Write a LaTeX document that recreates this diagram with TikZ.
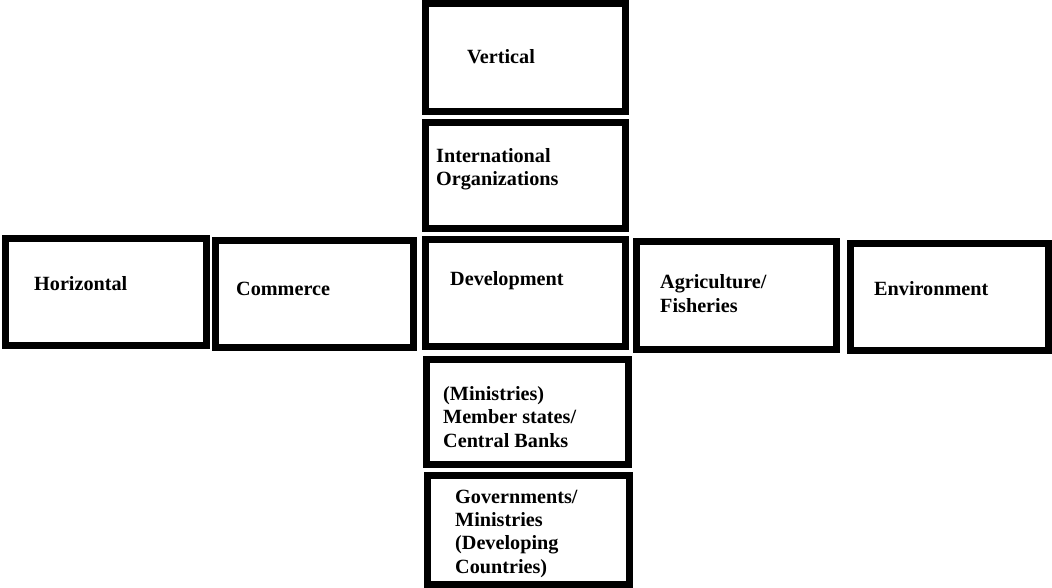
\documentclass[tikz,border=0pt]{standalone}
\usepackage{fontspec}
\setmainfont{Liberation Serif}
\begin{document}
\begin{tikzpicture}[x=1pt,y=-1pt,
  box/.style={draw=black, line width=7pt, rectangle, inner sep=0pt, fill=white},
  lbl/.style={anchor=base west, inner sep=0pt, align=left,
    font=\fontsize{20.2}{23.3}\selectfont\bfseries}]
\useasboundingbox[fill=white] (0,0) rectangle (1052,588);

% vertical column of boxes
\node[box, minimum width=200pt, minimum height=108pt] (vert) at (525.5,57.5) {};
\node[box, minimum width=200pt, minimum height=106pt] (intl) at (525.5,175.5) {};
\node[box, minimum width=200pt, minimum height=107pt] (dev)  at (525.5,293) {};
\node[box, minimum width=202pt, minimum height=105pt] (mem)  at (527.5,412) {};
\node[box, minimum width=202pt, minimum height=109pt] (gov)  at (528.5,530) {};

% horizontal row of boxes
\node[box, minimum width=201pt, minimum height=107pt] (hor)  at (106,292) {};
\node[box, minimum width=198pt, minimum height=107pt] (com)  at (314.5,294) {};
\node[box, minimum width=200pt, minimum height=108pt] (agr)  at (736.5,295.5) {};
\node[box, minimum width=198pt, minimum height=107pt] (env)  at (949.5,297) {};

% labels (base = baseline of the last line)
\node[lbl] (tvert) at (467,64)  {Vertical};
\node[lbl] (tintl) at (436,186) {International\\Organizations};
\node[lbl] (tdev)  at (450,285) {Development};
\node[lbl] (tmem)  at (443,447) {(Ministries)\\Member states/\\Central Banks};
\node[lbl] (tgov)  at (455,573) {Governments/\\Ministries\\(Developing\\Countries)};
\node[lbl] (thor)  at (34,290)  {Horizontal};
\node[lbl] (tcom)  at (236,295) {Commerce};
\node[lbl] (tagr)  at (660,312) {Agriculture/\\Fisheries};
\node[lbl] (tenv)  at (874,295) {Environment};
\end{tikzpicture}
\end{document}
